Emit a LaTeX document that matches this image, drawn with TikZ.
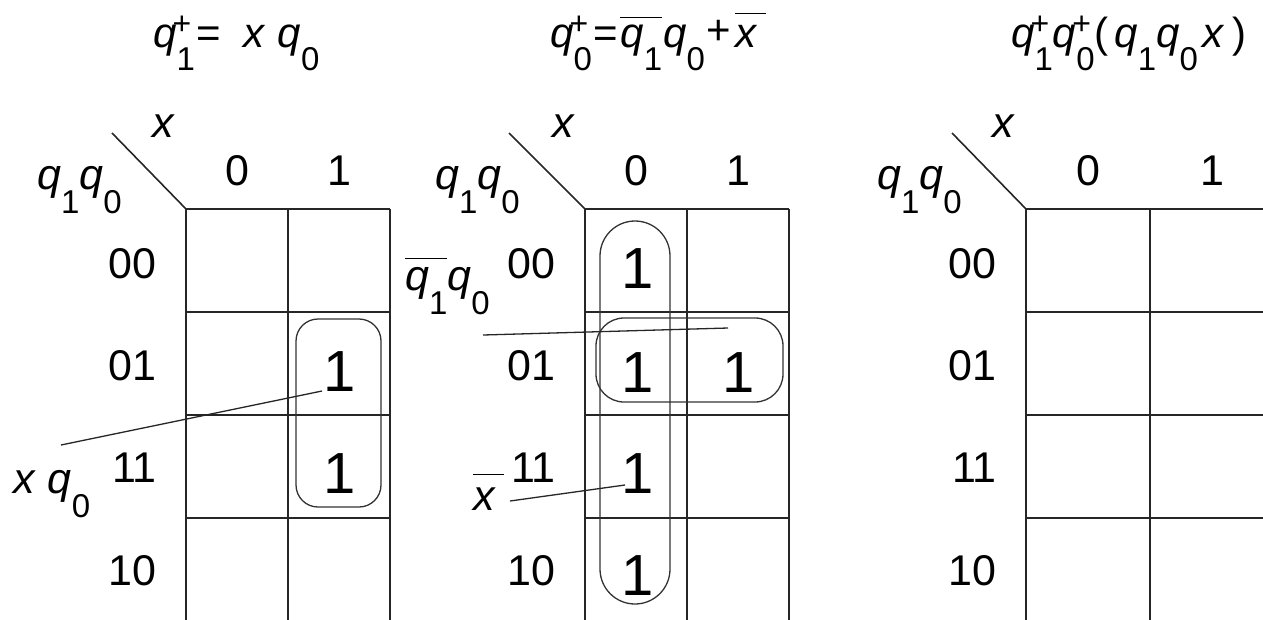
\documentclass[tikz,border=0pt]{standalone}
\usepackage{fontspec}
\setmainfont{Liberation Sans}
\newcommand{\va}[1]{\textit{#1}}
\newcommand{\sbs}[1]{\raisebox{-24pt}{\fontsize{33}{33}\selectfont #1}}
\newcommand{\tsbs}[1]{\raisebox{-23pt}{\fontsize{33}{33}\selectfont #1}}
\newcommand{\tsup}{\rlap{\kern-4pt\raisebox{13pt}{\fontsize{32}{32}\selectfont +}}}
\newcommand{\ovl}[2]{$\overline{\hbox{#1\vrule height #2 width 0pt}}$}
\begin{document}
\begin{tikzpicture}[x=1pt,y=-1pt,
  grid/.style={line width=1.8pt, black!85},
  diag/.style={line width=1.6pt, black!85},
  loopline/.style={line width=1.3pt, black!80},
  lead/.style={line width=1.3pt, black!85},
  lbl/.style={inner sep=0pt, font=\fontsize{43}{50}\selectfont},
  one/.style={inner sep=0pt, font=\fontsize{58}{60}\selectfont, anchor=base},
  ttl/.style={inner sep=0pt, font=\fontsize{42}{46}\selectfont, anchor=base west}]
\useasboundingbox (0,0) rectangle (1263,619);

% ---------- titles ----------
\node[ttl] (t1) at (153,47) {\va{q}\tsup\tsbs{1}\kern2pt=\kern22pt\va{x}\kern12pt\va{q}\tsbs{0}};
\node[ttl] (t2) at (550,47) {\va{q}\tsup\tsbs{0}\kern2pt=\kern2pt\ovl{\va{q}\tsbs{1}}{28pt}\kern1pt\va{q}\tsbs{0}\kern2pt\raisebox{3pt}{+}\kern4pt\ovl{\va{x}\kern8pt}{32pt}};
\node[ttl] (t3) at (1011,47) {\va{q}\tsup\tsbs{1}\va{q}\tsup\tsbs{0}(\kern6pt\va{q}\tsbs{1}\va{q}\tsbs{0}\kern4pt\va{x}\kern8pt)};

% ---------- map 1 ----------
\foreach \y in {209,312,415,518,621} \draw[grid] (186,\y) -- (390,\y);
\foreach \x in {186,288,390} \draw[grid] (\x,209) -- (\x,621);
\coordinate (d1a) at (112,133); \coordinate (d1b) at (186,209);
\draw[diag] (d1a) -- (d1b);
\node[lbl, anchor=base west] (x1) at (152,137) {\va{x}};
\node[lbl, anchor=base west] (qq1) at (37,189) {\va{q}\sbs{1}\va{q}\sbs{0}};
\node[lbl, anchor=base] (c10) at (237,185) {0};
\node[lbl, anchor=base] (c11) at (339,185) {1};
\node[lbl, anchor=base east] (r100) at (157,278) {00};
\node[lbl, anchor=base east] (r101) at (157,380) {01};
\node[lbl, anchor=base east] (r111) at (157,482) {11};
\node[lbl, anchor=base east] (r110) at (157,585) {10};
\node[one] (o1a) at (340,391) {1};
\node[one] (o1b) at (340,493) {1};
\draw[loopline, rounded corners=22pt] (296,319) rectangle (381,507);
\node[lbl, anchor=base west] (lab1) at (13,493) {\va{x}\kern12pt\va{q}\sbs{0}};
\coordinate (l1a) at (61,445); \coordinate (l1b) at (322,391);
\draw[lead] (l1a) -- (l1b);

% ---------- map 2 ----------
\foreach \y in {209,312,415,518,621} \draw[grid] (585,\y) -- (789,\y);
\foreach \x in {585,687,789} \draw[grid] (\x,209) -- (\x,621);
\coordinate (d2a) at (509,133); \coordinate (d2b) at (585,209);
\draw[diag] (d2a) -- (d2b);
\node[lbl, anchor=base west] (x2) at (552,137) {\va{x}};
\node[lbl, anchor=base west] (qq2) at (435,189) {\va{q}\sbs{1}\va{q}\sbs{0}};
\node[lbl, anchor=base] (c20) at (636,185) {0};
\node[lbl, anchor=base] (c21) at (738,185) {1};
\node[lbl, anchor=base east] (r200) at (556,278) {00};
\node[lbl, anchor=base east] (r201) at (556,380) {01};
\node[lbl, anchor=base east] (r211) at (556,482) {11};
\node[lbl, anchor=base east] (r210) at (556,585) {10};
\node[one] (o2a) at (638,288) {1};
\node[one] (o2b) at (638,392) {1};
\node[one] (o2c) at (739,392) {1};
\node[one] (o2d) at (638,493) {1};
\node[one] (o2e) at (638,595) {1};
\draw[loopline, rounded corners=35pt] (600,221) rectangle (670,604);
\draw[loopline, rounded corners=28pt] (596,318) rectangle (783,402);
\node[lbl, anchor=base west] (lab2) at (405,290) {\ovl{\va{q}\sbs{1}}{30pt}\va{q}\sbs{0}};
\coordinate (l2a) at (483,335); \coordinate (l2b) at (728,328);
\draw[lead] (l2a) -- (l2b);
\node[lbl, anchor=base west] (lab3) at (473,510) {\ovl{\va{x}\kern8pt}{34pt}};
\coordinate (l3a) at (510,501); \coordinate (l3b) at (625,485);
\draw[lead] (l3a) -- (l3b);

% ---------- map 3 ----------
\foreach \y in {209,312,415,518,621} \draw[grid] (1026,\y) -- (1280,\y);
\foreach \x in {1026,1150,1274} \draw[grid] (\x,209) -- (\x,621);
\coordinate (d3a) at (952,133); \coordinate (d3b) at (1026,209);
\draw[diag] (d3a) -- (d3b);
\node[lbl, anchor=base west] (x3) at (992,137) {\va{x}};
\node[lbl, anchor=base west] (qq3) at (877,189) {\va{q}\sbs{1}\va{q}\sbs{0}};
\node[lbl, anchor=base] (c30) at (1088,185) {0};
\node[lbl, anchor=base] (c31) at (1212,185) {1};
\node[lbl, anchor=base east] (r300) at (997,278) {00};
\node[lbl, anchor=base east] (r301) at (997,380) {01};
\node[lbl, anchor=base east] (r311) at (997,482) {11};
\node[lbl, anchor=base east] (r310) at (997,585) {10};
\end{tikzpicture}
\end{document}
